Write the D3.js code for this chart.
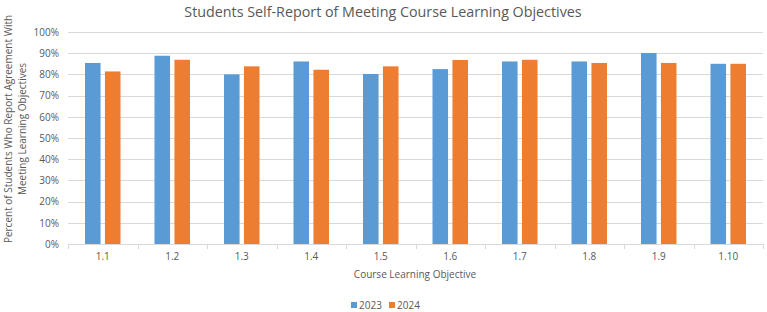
<!DOCTYPE html>
<html lang="en">
<head>
<meta charset="UTF-8"/>
<title>Students Self-Report of Meeting Course Learning Objectives</title>
<script src="https://d3js.org/d3.v7.min.js"></script>
<style>
  body { margin: 0; background: #fff; }
  text { font-family: "Open Sans", sans-serif; fill: #595959; }
</style>
</head>
<body>
<div id="chart"></div>
<script>
    // data
    var objectives = ["1.1", "1.2", "1.3", "1.4", "1.5", "1.6", "1.7", "1.8", "1.9", "1.10"];
    var years = ["2023", "2024"];
    var values2023 = [85.4, 88.8, 80.0, 86.1, 80.2, 82.5, 86.1, 86.1, 90.1, 85.0];
    var values2024 = [81.4, 86.9, 83.8, 82.2, 83.8, 86.8, 86.9, 85.4, 85.4, 85.0];
    var yTicks = [0, 10, 20, 30, 40, 50, 60, 70, 80, 90, 100];
    var colors = ["#5b9bd5", "#ed7d31"];

    var width = 767, height = 312;
    var plotLeft = 68, plotRight = 763, plotTop = 32, plotBottom = 244;

    var svg = d3.select("#chart").append("svg")
        .attr("width", width).attr("height", height);

    var x0 = d3.scaleBand().domain(objectives).range([plotLeft, plotRight]).paddingInner(0).paddingOuter(0);
    var x1 = d3.scaleBand().domain(years).range([17, x0.bandwidth() - 17]).paddingInner(0.22);
    var y = d3.scaleLinear().domain([0, 100]).range([plotBottom, plotTop]);

    // gridlines
    svg.append("g").selectAll("line")
        .data(yTicks.slice(1)).enter().append("line")
        .attr("x1", plotLeft).attr("x2", plotRight)
        .attr("y1", d => Math.round(y(d)) + 0.5).attr("y2", d => Math.round(y(d)) + 0.5)
        .attr("stroke", "#d9d9d9").attr("stroke-width", 1);

    // y axis labels
    var yAxis = d3.axisLeft(y).tickValues(yTicks).tickFormat(d => d + "%").tickSize(0).tickPadding(8);
    var gy = svg.append("g").attr("transform", "translate(" + (plotLeft - 1) + ",0)").call(yAxis);
    gy.select(".domain").remove();
    gy.selectAll("text").style("font-size", "10px").attr("fill", "#595959");

    // bars
    var data = objectives.map(function (o, i) {
        return { key: o, vals: [values2023[i], values2024[i]] };
    });
    var groups = svg.append("g").selectAll("g").data(data).enter().append("g")
        .attr("transform", d => "translate(" + x0(d.key) + ",0)");
    groups.selectAll("rect")
        .data(d => d.vals.map((v, j) => ({ year: years[j], v: v, c: colors[j] })))
        .enter().append("rect")
        .attr("x", d => x1(d.year))
        .attr("width", x1.bandwidth())
        .attr("y", d => y(d.v))
        .attr("height", d => y(0) - y(d.v))
        .attr("fill", d => d.c);

    // x axis
    var xAxis = d3.axisBottom(x0).tickSize(0).tickPadding(9);
    var gx = svg.append("g").attr("transform", "translate(0," + plotBottom + ")").call(xAxis);
    gx.select(".domain").attr("stroke", "#d9d9d9").attr("d", "M" + plotLeft + ",0.5H" + plotRight);
    gx.selectAll("text").style("font-size", "10px").attr("fill", "#595959");
    // tick marks at category boundaries
    svg.append("g").selectAll("line")
        .data(objectives.concat(["end"])).enter().append("line")
        .attr("x1", (d, i) => Math.round(plotLeft + i * x0.step()) + 0.5)
        .attr("x2", (d, i) => Math.round(plotLeft + i * x0.step()) + 0.5)
        .attr("y1", plotBottom).attr("y2", plotBottom + 5)
        .attr("stroke", "#d9d9d9");

    // title
    svg.append("text")
        .attr("x", 383).attr("y", 17)
        .attr("text-anchor", "middle")
        .style("font-size", "14.3px")
        .text("Students Self-Report of Meeting Course Learning Objectives");

    // axis titles
    svg.append("text")
        .attr("x", 415).attr("y", 278)
        .attr("text-anchor", "middle")
        .style("font-size", "10px")
        .text("Course Learning Objective");

    var yt = svg.append("text")
        .attr("transform", "translate(12,129) rotate(-90)")
        .attr("text-anchor", "middle")
        .style("font-size", "10px");
    yt.append("tspan").attr("x", 0).attr("dy", 0).text("Percent of Students Who Report Agreement With");
    yt.append("tspan").attr("x", 0).attr("dy", 14).text("Meeting Learning Objectives");

    // legend
    var legend = svg.append("g").selectAll("g").data(years).enter().append("g")
        .attr("transform", (d, i) => "translate(" + (351 + i * 38) + ",302)");
    legend.append("rect").attr("width", 6).attr("height", 6).attr("fill", (d, i) => colors[i]);
    legend.append("text").attr("x", 8).attr("y", 6.5).style("font-size", "10px").text(d => d);
</script>
</body>
</html>
